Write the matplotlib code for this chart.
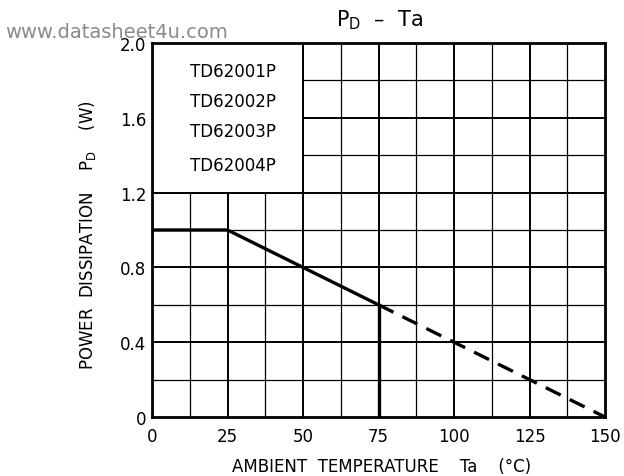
import matplotlib
matplotlib.use("Agg")
import matplotlib.pyplot as plt
from matplotlib.patches import Rectangle

# data
solid_x = [0, 25, 75]
solid_y = [1.0, 1.0, 0.6]
dash_x = [75, 150]
dash_y = [0.6, 0.0]
vline_x = 75
vline_y = [0.0, 0.6]
x_ticks = [0, 25, 50, 75, 100, 125, 150]
y_ticks = [0, 0.4, 0.8, 1.2, 1.6, 2.0]
y_ticklabels = ["0", "0.4", "0.8", "1.2", "1.6", "2.0"]
devices = ["TD62001P", "TD62002P", "TD62003P", "TD62004P"]
device_y = [1.85, 1.69, 1.53, 1.35]

plt.rcParams['font.family'] = ['DejaVu Sans']
fig = plt.figure(figsize=(6.24, 4.77), dpi=100)
ax = fig.add_axes([152/624, 1-418/477, (605-152)/624, (418-44)/477])
ax.set_xlim(0, 150)
ax.set_ylim(0, 2.0)

# grid
for xv in [12.5*i for i in range(1, 12)]:
    lw = 1.4 if xv % 25 == 0 else 0.9
    ax.axvline(xv, color='black', lw=lw, zorder=0.5)
for yv in [0.2*i for i in range(1, 10)]:
    major = abs(round(yv/0.4) - yv/0.4) < 1e-6
    ax.axhline(yv, color='black', lw=1.4 if major else 0.9, zorder=0.5)

ax.add_patch(Rectangle((0, 1.2), 50, 0.8, facecolor='white', edgecolor='black',
                       lw=1.4, zorder=1))

ax.plot(solid_x, solid_y, color='black', lw=2.4, zorder=3, solid_capstyle='butt')
ax.plot(dash_x, dash_y, color='black', lw=2.4, ls=(0, (5, 3)), zorder=3)
ax.plot([vline_x, vline_x], vline_y, color='black', lw=2.4, zorder=3)

for d, yv in zip(devices, device_y):
    ax.text(12.5, yv, d, fontsize=12, va='center', ha='left', zorder=4)

for s in ax.spines.values():
    s.set_linewidth(2)
    s.set_zorder(5)

ax.set_xticks(x_ticks)
ax.set_yticks(y_ticks)
ax.set_yticklabels(y_ticklabels)
ax.tick_params(length=0, labelsize=12)
ax.tick_params(axis='x', pad=7)
ax.tick_params(axis='y', pad=4)

fig.text(382/624, 1-467/477, "AMBIENT  TEMPERATURE    Ta    (\u00b0C)", fontsize=12,
         ha='center', va='center')
fig.text(88/624, 1-235/477, "POWER  DISSIPATION    $\\mathregular{P_D}$    (W)", fontsize=12,
         ha='center', va='center', rotation=90)
fig.text(380/624, 1-20/477, "$\\mathregular{P_D}$  \u2013  Ta", fontsize=15, ha='center', va='center')
fig.text(5/624, 1-33/477, "www.datasheet4u.com", fontsize=14, color='#8a8a8a',
         ha='left', va='center', zorder=0)

fig.savefig("out.png", dpi=100)
